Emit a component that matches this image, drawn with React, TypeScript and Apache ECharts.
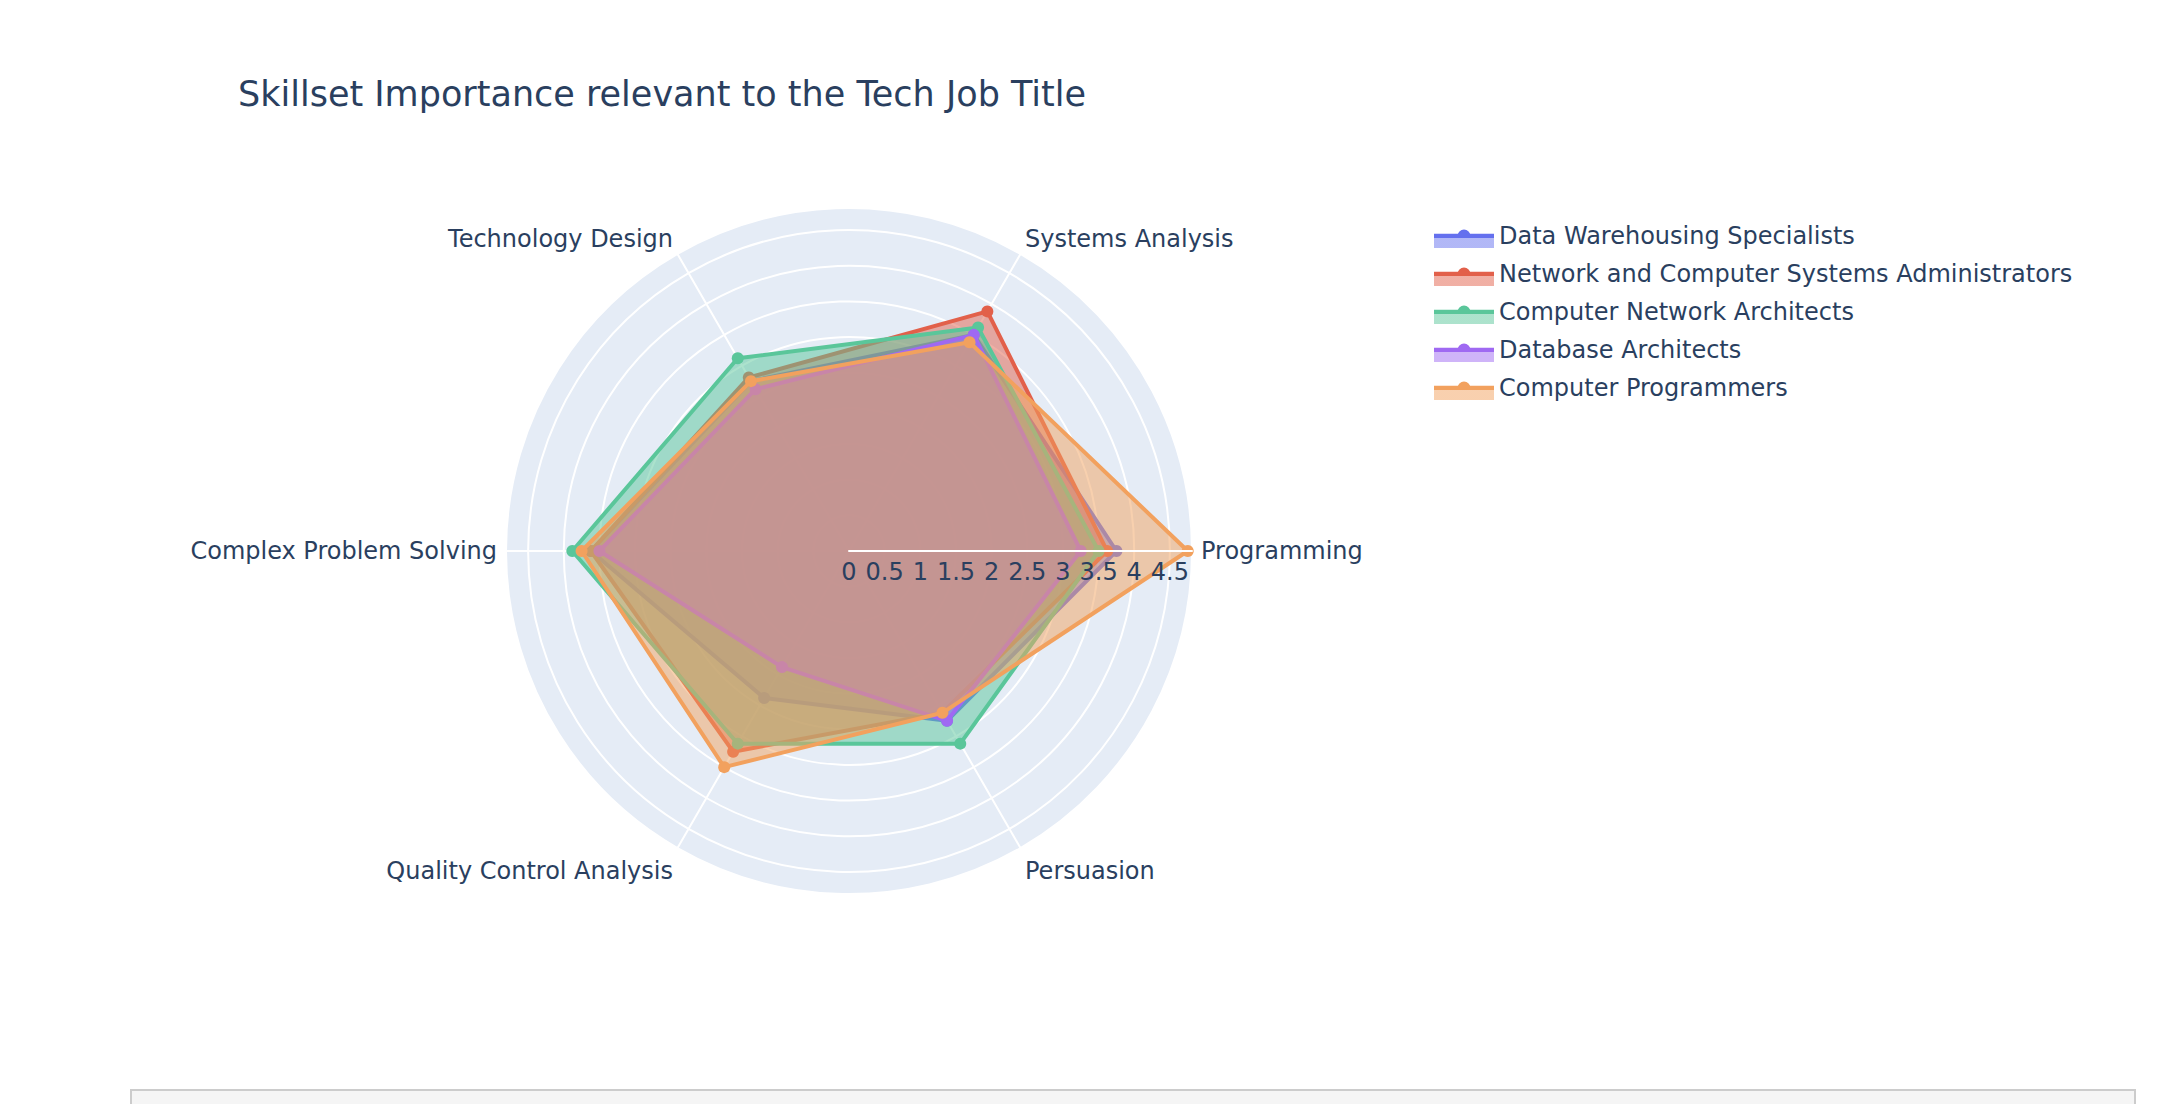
import React, { useEffect, useRef } from "react";
import * as echarts from "echarts";

const categories = [
  "Programming",
  "Systems Analysis",
  "Technology Design",
  "Complex Problem Solving",
  "Quality Control Analysis",
  "Persuasion",
];

const jobTitles = [
  "Data Warehousing Specialists",
  "Network and Computer Systems Administrators",
  "Computer Network Architects",
  "Database Architects",
  "Computer Programmers",
];

const dataWarehousing = [3.75, 3.5, 2.75, 3.62, 2.38, 2.75];
const networkAdmins = [3.62, 3.88, 2.81, 3.62, 3.25, 2.62];
const networkArchitects = [3.5, 3.62, 3.12, 3.88, 3.12, 3.12];
const databaseArchitects = [3.25, 3.5, 2.62, 3.5, 1.88, 2.75];
const programmers = [4.75, 3.38, 2.75, 3.75, 3.5, 2.62];

const seriesValues = [dataWarehousing, networkAdmins, networkArchitects, databaseArchitects, programmers];
const colors = ["#6470ee", "#e2604a", "#5ac69a", "#9f69f2", "#f2a15e"];

const radialMax = 4.81;
const radialStep = 0.5;

const FONT = "DejaVu Sans";
const TEXT = "#2a3f5f";

function hexToRgba(hex: string, a: number) {
  const h = hex.replace("#", "");
  const r = parseInt(h.slice(0, 2), 16);
  const g = parseInt(h.slice(2, 4), 16);
  const b = parseInt(h.slice(4, 6), 16);
  return `rgba(${r},${g},${b},${a})`;
}

const legendIcon =
  "path://M0,-12L0.01,-12L0.01,-11.99Z M0,-2.2L60,-2.2L60,2.2L0,2.2Z M36.5,0A6.5,6.5,0,1,1,23.5,0A6.5,6.5,0,1,1,36.5,0Z M0,2.2L60,2.2L60,12L0,12Z";

export default function App() {
  const ref = useRef<HTMLDivElement>(null);

  useEffect(() => {
    if (!ref.current) return;
    const chart = echarts.init(ref.current, undefined, { renderer: "svg" });
    const n = categories.length;
    const step = 360 / n;

    const series = seriesValues.map((vals, si) => {
      const pts: any[] = vals.map((v, i) => [v, i * step]);
      pts.push({ value: [vals[0], 360], symbol: "none" });
      return {
        name: jobTitles[si],
        type: "line",
        coordinateSystem: "polar",
        polarIndex: 0,
        z: 2 + si,
        data: pts,
        symbol: "circle",
        symbolSize: 12,
        showSymbol: true,
        clip: false,
        lineStyle: { color: colors[si], width: 4, join: "round" },
        itemStyle: { color: colors[si] },
        areaStyle: { color: colors[si], opacity: 0.5 },
        emphasis: { disabled: true },
      };
    });

    const legendData = jobTitles.map((name, i) => ({
      name,
      icon: legendIcon,
      itemStyle: {
        borderWidth: 0,
        borderColor: "transparent",
        color: {
          type: "linear",
          x: 0,
          y: 0,
          x2: 0,
          y2: 1,
          colorStops: [
            { offset: 0, color: colors[i] },
            { offset: 0.591, color: colors[i] },
            { offset: 0.592, color: hexToRgba(colors[i], 0.5) },
            { offset: 1, color: hexToRgba(colors[i], 0.5) },
          ],
        },
      },
    }));

    const isStep = (v: number) => Math.abs(v / radialStep - Math.round(v / radialStep)) < 1e-6;

    const labelStyle = (idx: number) => {
      const deg = idx * step;
      const s = Math.sin((deg * Math.PI) / 180);
      if (s > 0.3) return "up";
      if (s < -0.3) return "down";
      return "mid";
    };

    chart.setOption({
      animation: false,
      backgroundColor: "#ffffff",
      textStyle: { fontFamily: FONT },
      title: {
        text: "Skillset Importance relevant to the Tech Job Title",
        left: 238,
        top: 76,
        padding: 0,
        textStyle: { fontFamily: FONT, fontSize: 35, fontWeight: "normal", color: TEXT },
      },
      legend: {
        orient: "vertical",
        left: 1434,
        top: 224,
        padding: 0,
        itemWidth: 60,
        itemHeight: 24,
        itemGap: 14,
        selectedMode: false,
        textStyle: { fontFamily: FONT, fontSize: 24, color: TEXT, lineHeight: 24 },
        data: legendData,
      },
      polar: [
        { center: [849, 551], radius: 343 },
        { center: [849, 551], radius: 343 },
        { center: [849, 551], radius: 343 },
      ],
      angleAxis: [
        {
          polarIndex: 0,
          type: "value",
          min: 0,
          max: 360,
          interval: step,
          startAngle: 0,
          clockwise: false,
          z: 1,
          axisLine: { show: false },
          axisTick: { show: false },
          axisLabel: {
            margin: 9,
            fontFamily: FONT,
            fontSize: 24,
            color: TEXT,
            formatter: (v: number) => {
              const idx = Math.round(v / step);
              return idx < n ? `{${labelStyle(idx)}|${categories[idx]}}` : "";
            },
            rich: {
              up: { fontFamily: FONT, fontSize: 24, color: TEXT, lineHeight: 14 },
              mid: { fontFamily: FONT, fontSize: 24, color: TEXT, lineHeight: 24 },
              down: { fontFamily: FONT, fontSize: 24, color: TEXT, lineHeight: 30 },
            },
          },
          splitLine: { show: true, lineStyle: { color: "#ffffff", width: 2 } },
          splitArea: { show: false },
        },
        {
          polarIndex: 1,
          type: "value",
          min: 0,
          max: 360,
          startAngle: 0,
          clockwise: false,
          show: false,
        },
        {
          polarIndex: 2,
          type: "value",
          min: 0,
          max: 360,
          interval: step,
          startAngle: 0,
          clockwise: false,
          z: 0,
          axisLine: { show: false },
          axisTick: { show: false },
          axisLabel: { show: false },
          splitLine: { show: false },
          splitArea: { show: true, areaStyle: { color: ["#E5ECF6"] } },
        },
      ],
      radiusAxis: [
        {
          polarIndex: 0,
          type: "value",
          min: 0,
          max: radialMax,
          interval: radialStep,
          z: 1,
          axisLine: { show: false },
          axisTick: { show: false },
          axisLabel: { show: false },
          splitLine: { show: true, lineStyle: { color: "#ffffff", width: 2 } },
        },
        {
          polarIndex: 1,
          type: "value",
          min: 0,
          max: radialMax,
          interval: radialStep,
          z: 20,
          axisLine: { show: true, lineStyle: { color: "#ffffff", width: 2 } },
          axisTick: { show: false },
          splitLine: { show: false },
          axisLabel: {
            show: true,
            margin: -33,
            fontFamily: FONT,
            fontSize: 24,
            color: TEXT,
            formatter: (v: number) => (isStep(v) && v <= radialMax ? String(v) : ""),
          },
        },
        {
          polarIndex: 2,
          type: "value",
          min: 0,
          max: radialMax,
          z: 0,
          axisLine: { show: false },
          axisTick: { show: false },
          axisLabel: { show: false },
          splitLine: { show: false },
        },
      ],
      graphic: [
        {
          type: "rect",
          silent: true,
          shape: { x: 131, y: 1090, width: 2004, height: 30 },
          style: { fill: "#f5f5f5", stroke: "#cccccc", lineWidth: 2 },
        },
      ],
      series,
    });

    return () => chart.dispose();
  }, []);

  return (
    <div
      ref={ref}
      style={{ position: "fixed", left: 0, top: 0, width: 2160, height: 1104 }}
    />
  );
}
